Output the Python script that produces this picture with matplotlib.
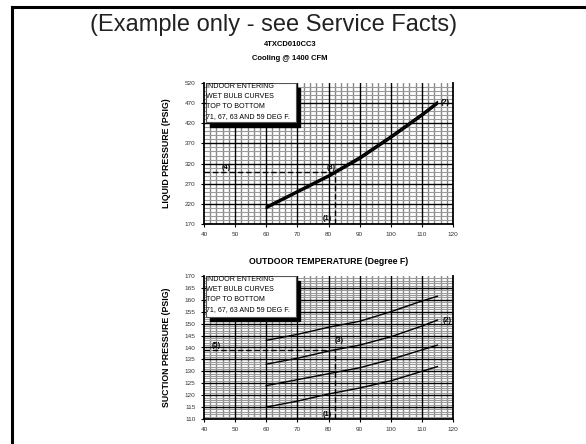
import numpy as np
import matplotlib
matplotlib.use('Agg')
import matplotlib.pyplot as plt
from matplotlib.patches import Rectangle
from matplotlib.lines import Line2D

plt.rcParams['font.family'] = ['Liberation Sans', 'DejaVu Sans']

# outdoor temperature (deg F)
temps = [60, 70, 80, 90, 100, 110, 115]

# liquid pressure, indoor wet bulb 71, 67, 63, 59
liquid_71 = [214, 253, 292, 337, 389, 444, 474]
liquid_67 = [212, 251, 290, 335, 387, 442, 472]
liquid_63 = [210, 249, 288, 332, 384, 439, 469]
liquid_59 = [208, 247, 286, 330, 382, 437, 467]

# suction pressure, indoor wet bulb 71, 67, 63, 59
suction_71 = [143, 145.5, 148.5, 151, 155, 159.5, 161.5]
suction_67 = [133, 135.5, 138.5, 141, 144.5, 149, 151.5]
suction_63 = [124, 126.5, 129, 131.5, 135, 139, 141]
suction_59 = [115, 117.5, 120.5, 123, 126, 130, 132]

# example reading
ex_temp = 82
ex_liquid = 298
ex_suction = 139

legend_text = 'INDOOR ENTERING\nWET BULB CURVES\nTOP TO BOTTOM\n71, 67, 63 AND 59 DEG F.'

W, H = 586, 444
fig = plt.figure(figsize=(W / 100, H / 100), dpi=100)

def px_axes(left, top, right, bottom):
    return fig.add_axes([left / W, 1 - bottom / H, (right - left) / W, (bottom - top) / H])

# page frame
fig.add_artist(Line2D([12 / W, 12 / W], [0, 1 - 7 / H], color='black', lw=2.2))
fig.add_artist(Line2D([12 / W, 1], [1 - 7 / H, 1 - 7 / H], color='black', lw=2.2))

fig.text(274 / W, 1 - 25 / H, '(Example only - see Service Facts)', ha='center', va='center',
         fontsize=17, color='#222222')
fig.text(290 / W, 1 - 45 / H, '4TXCD010CC3', ha='center', va='center', fontsize=5.5, fontweight='bold')
fig.text(290 / W, 1 - 59 / H, 'Cooling @ 1400 CFM', ha='center', va='center', fontsize=5.5, fontweight='bold')


def style_axes(ax, ymin, ymax, ymajor, yminor):
    ax.set_xlim(40, 120)
    ax.set_ylim(ymin, ymax)
    ax.set_xticks(np.arange(40, 121, 10))
    ax.set_yticks(np.arange(ymin, ymax + 1, ymajor))
    for x in np.arange(40, 121, 2):
        if x % 10 != 0:
            ax.axvline(x, color='#8a8a8a', lw=1.0, zorder=1)
    for y in np.arange(ymin, ymax, yminor):
        if (y - ymin) % ymajor != 0:
            ax.axhline(y, color='#9a9a9a', lw=0.8, zorder=1)
    for x in np.arange(50, 120, 10):
        ax.axvline(x, color='black', lw=1.0, zorder=2)
    for y in np.arange(ymin + ymajor, ymax, ymajor):
        ax.axhline(y, color='black', lw=1.0, zorder=2)
    ax.tick_params(labelsize=4.6, length=2, width=0.8, pad=4, colors='black', labelcolor='#333333')
    for s in ax.spines.values():
        s.set_linewidth(1.3)
    ax.spines['top'].set_visible(False)


def legend_box(ax, x0, x1, y0, y1, dx, dy):
    ax.add_patch(Rectangle((x0 + dx, y0 - dy), x1 - x0, y1 - y0, facecolor='black', edgecolor='black', zorder=5))
    ax.add_patch(Rectangle((x0, y0), x1 - x0, y1 - y0, facecolor='white', edgecolor='#555555', lw=0.8, zorder=6))
    ax.text(x0 + 0.3, y1, legend_text, ha='left', va='top', fontsize=5.1, linespacing=1.6, zorder=7)


# liquid pressure chart
ax1 = px_axes(204, 83, 453, 224)
style_axes(ax1, 170, 520, 50, 10)
for vals in [liquid_71, liquid_67, liquid_63, liquid_59]:
    ax1.plot(temps, vals, color='black', lw=0.9, zorder=4)
ax1.plot([ex_temp, ex_temp], [170, ex_liquid], color='black', lw=1.0, ls=(0, (4, 2)), zorder=4)
ax1.plot([40, ex_temp], [ex_liquid, ex_liquid], color='black', lw=1.0, ls=(0, (4, 2)), zorder=4)
ax1.text(79.5, 183, '(1)', fontsize=5.2, fontweight='bold', ha='center', va='center', zorder=4)
ax1.text(117.5, 471, '(2)', fontsize=5.2, fontweight='bold', ha='center', va='center', zorder=4)
ax1.text(81, 311, '(3)', fontsize=5.2, fontweight='bold', ha='center', va='center', zorder=4)
ax1.text(47, 311, '(4)', fontsize=5.2, fontweight='bold', ha='center', va='center', zorder=4)
legend_box(ax1, 40.5, 69.5, 422, 519, 1.3, 12)
ax1.set_ylabel('LIQUID PRESSURE (PSIG)', fontsize=6.3, fontweight='bold', labelpad=10)
ax1.set_xlabel('OUTDOOR TEMPERATURE (Degree F)', fontsize=6.3, fontweight='bold', labelpad=14)

# suction pressure chart
ax2 = px_axes(204, 276, 453, 419)
style_axes(ax2, 110, 170, 5, 1)
for vals in [suction_71, suction_67, suction_63, suction_59]:
    ax2.plot(temps, vals, color='black', lw=1.0, zorder=4)
ax2.plot([ex_temp, ex_temp], [110, ex_suction], color='black', lw=1.0, ls=(0, (4, 2)), zorder=4)
ax2.plot([40, ex_temp], [ex_suction, ex_suction], color='black', lw=1.0, ls=(0, (4, 2)), zorder=4)
ax2.text(79.5, 111.8, '(1)', fontsize=5.2, fontweight='bold', ha='center', va='center', zorder=4)
ax2.text(118, 151.5, '(2)', fontsize=5.2, fontweight='bold', ha='center', va='center', zorder=4)
ax2.text(83.5, 143, '(3)', fontsize=5.2, fontweight='bold', ha='center', va='center', zorder=4)
ax2.text(44, 140.8, '(5)', fontsize=5.2, fontweight='bold', ha='center', va='center', zorder=4)
legend_box(ax2, 40.5, 69.5, 152.8, 169.8, 1.3, 1.8)
ax2.set_ylabel('SUCTION PRESSURE (PSIG)', fontsize=6.3, fontweight='bold', labelpad=10)

fig.savefig('out.png', dpi=100)
